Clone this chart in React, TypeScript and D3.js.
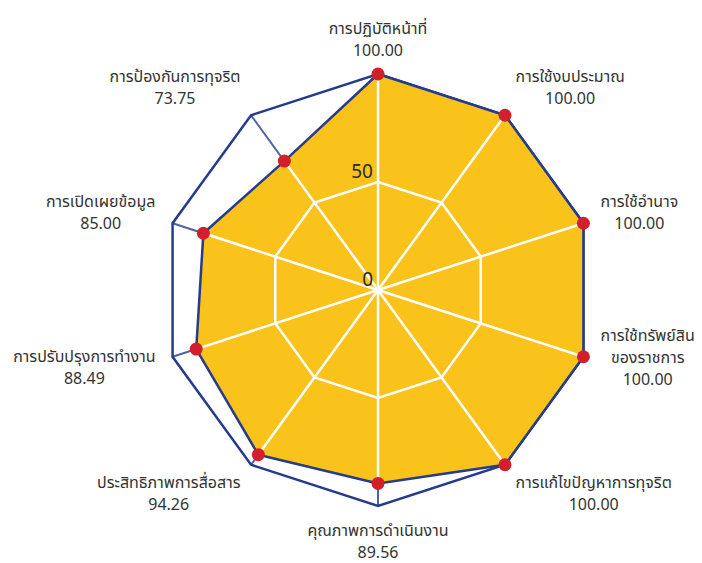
import React, { useRef, useEffect } from "react";
import * as d3 from "d3";

const categories = [
  "การปฏิบัติหน้าที่",
  "การใช้งบประมาณ",
  "การใช้อำนาจ",
  "การใช้ทรัพย์สิน\nของราชการ",
  "การแก้ไขปัญหาการทุจริต",
  "คุณภาพการดำเนินงาน",
  "ประสิทธิภาพการสื่อสาร",
  "การปรับปรุงการทำงาน",
  "การเปิดเผยข้อมูล",
  "การป้องกันการทุจริต",
];
const scores = [100, 100, 100, 100, 100, 89.56, 94.26, 88.49, 85.0, 73.75];
const tickValues = [0, 50];
const innerRings = [50];
const maxValue = 100;

const WIDTH = 702;
const HEIGHT = 563;

const RadarChart: React.FC = () => {
  const ref = useRef<SVGSVGElement>(null);

  useEffect(() => {
    if (!ref.current) return;
    const svg = d3.select(ref.current);
    svg.selectAll("*").remove();

    const cx = 378;
    const cy = 290;
    const radius = 216;
    const n = categories.length;
    const fontFamily = "'Noto Sans Thai', 'Noto Sans', 'DejaVu Sans', sans-serif";

    const r = d3.scaleLinear().domain([0, maxValue]).range([0, radius]);
    const angle = d3.scaleLinear().domain([0, n]).range([0, 2 * Math.PI]);

    const g = svg.append("g").attr("transform", `translate(${cx},${cy})`);

    const polygon = d3
      .lineRadial<number>()
      .angle((_, i) => angle(i))
      .radius((d) => r(d))
      .curve(d3.curveLinearClosed);

    const px = (i: number, v: number) => r(v) * Math.sin(angle(i));
    const py = (i: number, v: number) => -r(v) * Math.cos(angle(i));

    // blue spokes (only show outside the yellow area)
    g.selectAll(".spoke")
      .data(categories)
      .enter()
      .append("line")
      .attr("x1", 0)
      .attr("y1", 0)
      .attr("x2", (_, i) => px(i, maxValue))
      .attr("y2", (_, i) => py(i, maxValue))
      .attr("stroke", "#4f63a3")
      .attr("stroke-width", 2);

    // outer ring
    g.append("path")
      .attr("d", polygon(categories.map(() => maxValue)))
      .attr("fill", "none")
      .attr("stroke", "#253b8c")
      .attr("stroke-width", 2.5);

    // data area
    g.append("path")
      .attr("d", polygon(scores))
      .attr("fill", "#f9c31b")
      .attr("stroke", "#253b8c")
      .attr("stroke-width", 2.5)
      .attr("stroke-linejoin", "round");

    // white grid on top of the area
    innerRings.forEach((lvl) => {
      g.append("path")
        .attr("d", polygon(categories.map(() => lvl)))
        .attr("fill", "none")
        .attr("stroke", "#ffffff")
        .attr("stroke-width", 2.5);
    });

    g.selectAll(".inner-spoke")
      .data(scores)
      .enter()
      .append("line")
      .attr("x1", 0)
      .attr("y1", 0)
      .attr("x2", (d, i) => px(i, d))
      .attr("y2", (d, i) => py(i, d))
      .attr("stroke", "#ffffff")
      .attr("stroke-width", 2.5);

    // points
    g.selectAll(".dot")
      .data(scores)
      .enter()
      .append("circle")
      .attr("cx", (d, i) => px(i, d))
      .attr("cy", (d, i) => py(i, d))
      .attr("r", 6.5)
      .attr("fill", "#d21f2b");

    // tick labels
    g.selectAll(".tick")
      .data(tickValues)
      .enter()
      .append("text")
      .attr("x", -5)
      .attr("y", (d) => -r(d) - 4)
      .attr("text-anchor", "end")
      .attr("font-family", fontFamily)
      .attr("font-size", 19)
      .attr("fill", "#2b2b2b")
      .text((d) => d);

    // axis labels
    const gap = 18;
    const lineHeight = 22;
    categories.forEach((cat, i) => {
      const a = angle(i);
      const sin = Math.sin(a);
      const cos = Math.cos(a);
      const ax = (radius + gap) * sin;
      const ay = -(radius + gap) * cos;
      const lines = [...cat.split("\n"), scores[i].toFixed(2)];

      const text = g
        .append("text")
        .attr("text-anchor", "middle")
        .attr("font-family", fontFamily)
        .attr("font-size", 16)
        .attr("fill", "#333333");

      lines.forEach((ln) => {
        text.append("tspan").text(ln);
      });

      let w = 0;
      text.selectAll<SVGTSpanElement, unknown>("tspan").each(function () {
        w = Math.max(w, this.getComputedTextLength());
      });

      const centerX = Math.abs(sin) < 1e-3 ? ax : ax + Math.sign(sin) * (w / 2);
      const centerY = ay - cos * 17 - (lines.length - 2) * 10;
      const firstY = centerY - ((lines.length - 1) / 2) * lineHeight;

      text
        .selectAll("tspan")
        .attr("x", centerX)
        .attr("y", (_, j) => firstY + j * lineHeight)
        .attr("dy", "0.35em");
    });
  }, []);

  return (
    <svg
      ref={ref}
      width={WIDTH}
      height={HEIGHT}
      style={{ position: "absolute", left: 0, top: 0, display: "block", background: "#ffffff" }}
    ></svg>
  );
};

export default function App() {
  return <RadarChart />;
}
